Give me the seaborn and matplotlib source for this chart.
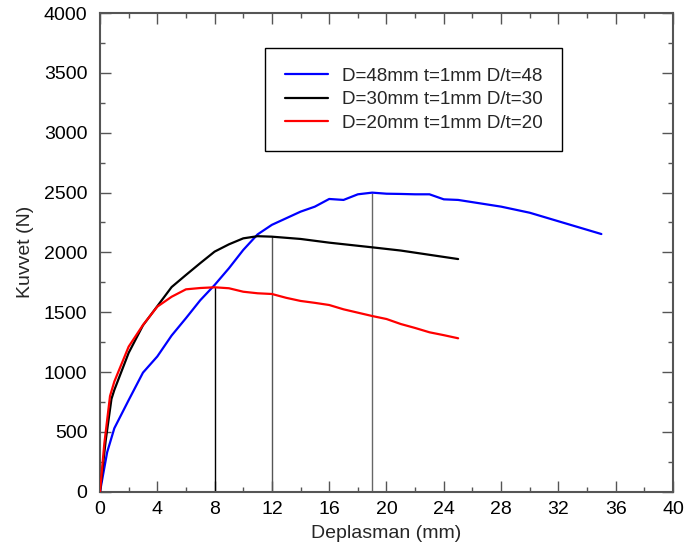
import matplotlib
matplotlib.use("Agg")
import matplotlib.pyplot as plt
from matplotlib.ticker import MultipleLocator
import seaborn as sns
import pandas as pd

# ---- data ----
x_d48 = [0, 0.5, 1, 2, 3, 4, 5, 6, 7, 8, 9, 10, 11, 12, 13, 14, 15, 16, 17, 18, 19, 20, 21, 22, 23, 24, 25, 28, 30, 35]
y_d48 = [0, 330, 530, 765, 995, 1130, 1305, 1450, 1600, 1727, 1867, 2020, 2150, 2230, 2285, 2340, 2382, 2446, 2438, 2485, 2499, 2490, 2488, 2485, 2485, 2443, 2438, 2382, 2331, 2153]

x_d30 = [0, 0.4, 0.8, 1, 2, 3, 4, 5, 6, 7, 8, 9, 10, 11, 12, 14, 16, 19, 21, 25]
y_d30 = [0, 430, 775, 850, 1160, 1390, 1550, 1710, 1811, 1910, 2006, 2067, 2117, 2135, 2131, 2112, 2081, 2042, 2015, 1944]

x_d20 = [0, 0.3, 0.7, 1, 2, 3, 4, 5, 6, 7, 8, 9, 10, 11, 12, 13, 14, 15, 16, 17, 18, 19, 20, 21, 22, 23, 24, 25]
y_d20 = [0, 400, 800, 920, 1212, 1393, 1546, 1629, 1691, 1702, 1708, 1700, 1671, 1658, 1652, 1620, 1594, 1578, 1560, 1524, 1496, 1468, 1443, 1401, 1368, 1332, 1308, 1282]

labels = ["D=48mm t=1mm D/t=48", "D=30mm t=1mm D/t=30", "D=20mm t=1mm D/t=20"]
colors = ["#0000ff", "#000000", "#ff0000"]

peak_x = [8, 12, 19]
peak_y = [1708, 2134, 2499]
peak_colors = ["#000000", "#555555", "#666666"]

x_ticks = list(range(0, 41, 4))
y_ticks = list(range(0, 4001, 500))

frames = []
for xs, ys, lab in zip([x_d48, x_d30, x_d20], [y_d48, y_d30, y_d20], labels):
    frames.append(pd.DataFrame({"x": xs, "y": ys, "series": lab}))
df = pd.concat(frames, ignore_index=True)

sns.set_style("ticks")
plt.rcParams["font.family"] = ["Liberation Sans", "DejaVu Sans"]

fig = plt.figure(figsize=(6.87, 5.56), dpi=100)
ax = fig.add_axes([100 / 687, (556 - 491.7) / 556, 573 / 687, 478.7 / 556])

ax.vlines(peak_x, 0, peak_y, colors=peak_colors, linewidth=1.0, zorder=1)

sns.lineplot(data=df, x="x", y="y", hue="series", palette=dict(zip(labels, colors)),
             hue_order=labels, sort=False, estimator=None, linewidth=1.6, ax=ax, zorder=3)

ax.set_xlim(0, 40)
ax.set_ylim(0, 4000)
ax.set_xticks(x_ticks)
ax.set_yticks(y_ticks)
ax.xaxis.set_minor_locator(MultipleLocator(2))
ax.yaxis.set_minor_locator(MultipleLocator(250))

spine_col = "#555555"
for s in ax.spines.values():
    s.set_visible(True)
    s.set_color(spine_col)
    s.set_linewidth(1.5)

ax.tick_params(which="both", direction="in", top=True, right=True, color=spine_col, labelcolor="black")
ax.tick_params(which="major", length=8, width=1.0, labelsize=14)
ax.tick_params(which="minor", length=3.5, width=1.0)
ax.tick_params(axis="x", which="major", pad=7)
ax.tick_params(axis="y", which="major", pad=9)

ax.set_xlabel("Deplasman (mm)", fontsize=14, labelpad=5)
ax.set_ylabel("Kuvvet (N)", fontsize=14, labelpad=7)

leg = ax.legend(loc="upper left", bbox_to_anchor=(0.288, 0.927), borderaxespad=0,
                fontsize=13.6, frameon=True, fancybox=False, shadow=False,
                handlelength=2.3, handletextpad=0.7, borderpad=1.05, labelspacing=0.32,
                title=None)
leg.get_frame().set_edgecolor("black")
leg.get_frame().set_linewidth(1.0)
leg.get_frame().set_alpha(1)
for line in leg.get_lines():
    line.set_linewidth(1.6)

fig.savefig("out.png", dpi=100)
